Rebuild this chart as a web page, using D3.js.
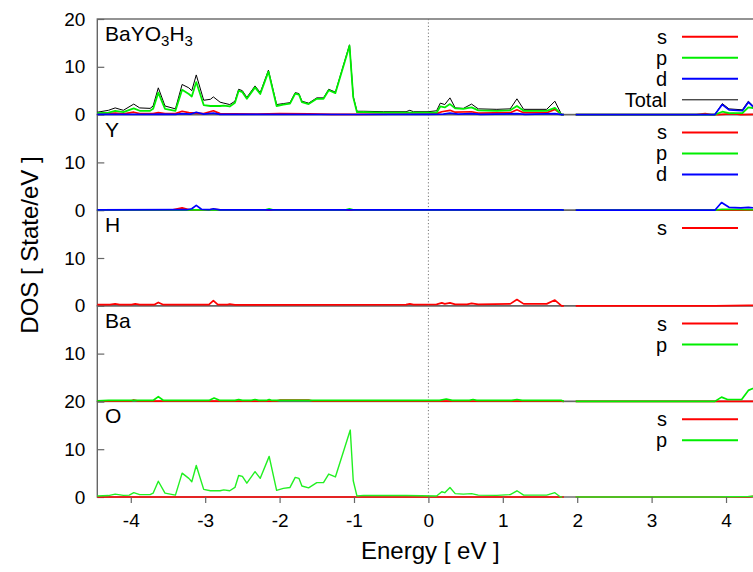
<!DOCTYPE html>
<html><head><meta charset="utf-8">
<script src="https://cdn.jsdelivr.net/npm/d3@7"></script>
<style>body{margin:0;background:#fff} text{font-family:"Liberation Sans",Arial,sans-serif;fill:#000}</style>
</head><body><svg id="c" width="753" height="572"></svg>
<script>
// ---------- data ----------
const energyTicks = [-4,-3,-2,-1,0,1,2,3,4];
const panelLabels = ["BaYO3H3","Y","H","Ba","O"];
const panelYTicks = [[0,10,20],[0,10],[0,10],[0,10],[0,10,20]];
// the O panel's "20" label sits where the Ba panel's "0" would be; only "20" is shown there
const panelYTickLabels = [[0,10,20],[0,10],[0,10],[10],[0,10,20]];

// BaYO3H3 total panel
const totS = [[-4.45,0.1],[-4.21,0.3],[-4.1,0.15],[-3.96,0.5],[-3.88,0.2],[-3.7,0.2],[-3.63,0.4],[-3.54,0.2],[-3.40,0.2],[-3.31,0.7],[-3.22,0.4],[-3.12,0.3],[-3.02,0.2],[-2.89,0.8],[-2.80,0.2],[-2.6,0.15],[-2.3,0.1],[-2.0,0.2],[-1.6,0.15],[-1.3,0.05],[-1.0,0.05],[-0.5,0.1],[0.0,0.1],[0.11,0.2],[0.18,0.6],[0.29,0.9],[0.36,0.5],[0.58,0.6],[0.67,0.3],[1.1,0.4],[1.19,1.0],[1.28,0.4],[1.59,0.4],[1.70,1.1],[1.79,0],[1.82,0],[1.9,null],[1.98,0],[3.6,0],[3.72,0.2],[3.8,0],[3.9,0],[4.0,0.1],[4.1,0.2],[4.2,0],[4.45,0.1]];
const totP = [[-4.45,0.3],[-4.3,0.4],[-4.21,0.8],[-4.1,0.5],[-3.96,1.3],[-3.88,0.8],[-3.74,0.8],[-3.70,1.2],[-3.63,4.6],[-3.54,1.2],[-3.40,0.8],[-3.31,5.2],[-3.22,4.3],[-3.18,3.8],[-3.12,6.8],[-3.02,2.0],[-2.93,1.8],[-2.80,1.8],[-2.75,1.9],[-2.67,1.7],[-2.60,2.5],[-2.55,5.0],[-2.50,4.7],[-2.44,3.3],[-2.33,5.7],[-2.26,4.3],[-2.15,9.0],[-2.04,1.8],[-1.95,2.1],[-1.86,2.3],[-1.79,4.4],[-1.74,4.2],[-1.70,2.6],[-1.61,2.2],[-1.50,3.3],[-1.41,3.3],[-1.34,5.1],[-1.25,4.5],[-1.06,14.4],[-1.01,3.6],[-0.96,0.5],[-0.87,0.5],[-0.6,0.4],[-0.3,0.4],[0.0,0.4],[0.11,0.4],[0.16,1.7],[0.22,1.5],[0.29,2.2],[0.36,1.3],[0.47,1.2],[0.58,1.5],[0.67,0.9],[0.92,0.8],[1.1,0.9],[1.19,1.8],[1.28,0.8],[1.59,0.8],[1.70,1.4],[1.79,0],[1.82,0],[1.9,null],[1.98,0],[3.85,0],[3.95,0.6],[4.04,0.3],[4.22,0.3],[4.30,1.5],[4.45,1.2]];
const totD = [[-4.45,0.05],[-3.7,0.05],[-3.63,0.1],[-3.4,0.05],[-3.31,0.2],[-3.2,0.1],[-3.12,0.5],[-3.02,0.1],[-2.89,0.3],[-2.8,0.05],[-1.0,0.02],[0.0,0.03],[0.2,0.1],[0.29,0.3],[0.4,0.1],[0.58,0.2],[0.7,0.05],[1.19,0.2],[1.3,0.05],[1.7,0.2],[1.79,0],[1.82,0],[1.9,null],[1.98,0],[3.85,0],[3.95,2.1],[4.04,1.0],[4.22,0.8],[4.30,2.6],[4.36,1.7],[4.45,1.5]];
const totAll = [[-4.45,0.5],[-4.3,0.9],[-4.21,1.4],[-4.1,0.9],[-3.96,2.2],[-3.88,1.4],[-3.74,1.3],[-3.70,1.8],[-3.63,5.6],[-3.54,1.8],[-3.40,1.2],[-3.31,6.3],[-3.22,5.6],[-3.18,5.0],[-3.12,8.3],[-3.02,3.0],[-2.93,3.2],[-2.89,3.7],[-2.80,2.6],[-2.75,2.4],[-2.67,2.1],[-2.60,2.8],[-2.55,5.3],[-2.50,5.0],[-2.44,3.6],[-2.33,6.0],[-2.26,4.6],[-2.15,9.3],[-2.04,2.1],[-1.95,2.3],[-1.86,2.5],[-1.79,4.6],[-1.74,4.4],[-1.70,2.8],[-1.61,2.4],[-1.50,3.5],[-1.41,3.5],[-1.34,5.3],[-1.25,4.7],[-1.06,14.6],[-1.01,3.8],[-0.96,0.7],[-0.87,0.7],[-0.6,0.6],[-0.3,0.6],[-0.25,0.9],[-0.2,0.6],[0.0,0.6],[0.11,0.8],[0.16,2.4],[0.22,2.1],[0.29,3.5],[0.36,1.4],[0.47,1.3],[0.58,2.2],[0.67,1.2],[0.92,1.1],[1.1,1.2],[1.19,3.3],[1.28,1.1],[1.59,1.1],[1.70,2.8],[1.79,0],[1.82,0],[1.9,null],[1.98,0],[3.85,0],[3.95,2.3],[4.04,1.2],[4.22,1.0],[4.30,2.8],[4.36,1.9],[4.45,1.7]];

// Y panel
const yS = [[-4.45,0.05],[-3.45,0.05],[-3.31,0.5],[-3.2,0.05],[-2.95,0.05],[-2.89,0.2],[-2.8,0.05],[1.79,0.05],[1.82,0],[1.9,null],[1.98,0],[4.45,0]];
const yP = [[-4.45,0.05],[-2.2,0.05],[-2.14,0.3],[-2.08,0.05],[-1.12,0.05],[-1.06,0.3],[-1.0,0.05],[1.79,0.05],[1.82,0],[1.9,null],[1.98,0],[3.85,0],[3.95,0.2],[4.45,0.1]];
const yD = [[-4.45,0.05],[-3.25,0.1],[-3.18,0.3],[-3.12,1.0],[-3.05,0.2],[-2.95,0.1],[-2.89,0.3],[-2.8,0.05],[0.0,0.05],[1.79,0.05],[1.82,0],[1.9,null],[1.98,0],[3.85,0],[3.94,1.6],[4.04,0.6],[4.2,0.5],[4.3,0.6],[4.45,0.4]];

// H panel
const hS = [[-4.45,0.25],[-4.28,0.25],[-4.21,0.4],[-4.15,0.25],[-3.99,0.25],[-3.94,0.4],[-3.88,0.25],[-3.68,0.25],[-3.63,0.7],[-3.57,0.25],[-2.95,0.25],[-2.89,1.1],[-2.83,0.25],[-2.7,0.25],[-2.67,0.35],[-2.6,0.2],[-0.3,0.25],[-0.25,0.4],[-0.2,0.25],[0.11,0.3],[0.18,0.6],[0.22,0.4],[0.29,0.6],[0.36,0.3],[0.52,0.3],[0.58,0.5],[0.67,0.3],[1.1,0.4],[1.19,1.3],[1.28,0.4],[1.59,0.4],[1.70,1.2],[1.79,0],[1.82,0],[1.9,null],[1.98,0],[3.85,0],[4.3,0.1],[4.45,0.1]];

// Ba panel
const baS = [[-4.45,0.05],[-4.0,0.05],[-3.96,0.3],[-3.9,0.05],[-2.05,0.05],[-2.0,0.25],[-1.6,0.25],[-1.55,0.05],[1.79,0.05],[1.82,0],[1.9,null],[1.98,0],[4.45,0]];
const baP = [[-4.45,0.1],[-4.3,0.2],[-3.7,0.2],[-3.63,1.0],[-3.56,0.2],[-2.95,0.2],[-2.88,0.7],[-2.8,0.2],[-2.6,0.2],[-2.55,0.4],[-2.5,0.2],[-2.38,0.2],[-2.33,0.4],[-2.28,0.2],[-2.18,0.2],[-2.14,0.4],[-2.1,0.2],[0.15,0.2],[0.24,0.5],[0.32,0.2],[0.55,0.2],[0.6,0.4],[0.65,0.2],[1.12,0.2],[1.19,0.4],[1.26,0.2],[1.79,0.2],[1.82,0],[1.9,null],[1.98,0],[3.85,0],[3.94,0.9],[4.02,0.4],[4.21,0.4],[4.30,2.3],[4.36,2.7],[4.45,2.5]];

// O panel
const oS = [[-4.45,0],[1.82,0],[1.9,null],[1.98,0],[4.3,0],[4.4,0.2],[4.45,0.1]];
const oP = [[-4.45,0.2],[-4.3,0.3],[-4.21,0.6],[-4.1,0.35],[-4.02,0.4],[-3.96,0.9],[-3.88,0.5],[-3.74,0.5],[-3.70,0.8],[-3.63,3.3],[-3.54,0.8],[-3.40,0.4],[-3.31,5.0],[-3.22,3.9],[-3.18,3.2],[-3.12,6.6],[-3.02,1.6],[-2.93,1.3],[-2.80,1.3],[-2.75,1.5],[-2.67,1.3],[-2.60,2.0],[-2.55,4.5],[-2.50,4.3],[-2.44,2.9],[-2.33,5.3],[-2.26,3.9],[-2.14,8.5],[-2.04,1.4],[-1.95,1.8],[-1.86,2.0],[-1.79,4.1],[-1.74,3.9],[-1.70,2.3],[-1.61,1.9],[-1.50,3.0],[-1.41,3.0],[-1.34,4.8],[-1.25,4.2],[-1.05,14.0],[-1.01,3.4],[-0.96,0.2],[-0.87,0.35],[-0.6,0.3],[-0.3,0.3],[0.11,0.2],[0.18,1.1],[0.22,0.9],[0.29,2.0],[0.36,0.7],[0.47,0.6],[0.58,0.7],[0.67,0.4],[0.92,0.35],[1.1,0.5],[1.19,1.3],[1.28,0.4],[1.59,0.4],[1.70,0.9],[1.77,0.05],[1.80,0],[1.9,null],[1.98,0],[3.85,0],[4.3,0.1],[4.45,0.2]];

// ---------- drawing ----------
const RED="#ff0000", GREEN="#00ee00", BLUE="#0000ff", BLACK="#000000";
const panels = [
  {series:[{n:"Total",d:totAll,c:BLACK,w:1},{n:"s",d:totS,c:RED,w:1.7},{n:"p",d:totP,c:GREEN,w:1.8},{n:"d",d:totD,c:BLUE,w:1.7}], legend:["s","p","d","Total"]},
  {series:[{n:"s",d:yS,c:RED,w:1.7},{n:"p",d:yP,c:GREEN,w:1.7},{n:"d",d:yD,c:BLUE,w:1.7}], legend:["s","p","d"]},
  {series:[{n:"s",d:hS,c:RED,w:1.7}], legend:["s"]},
  {series:[{n:"s",d:baS,c:RED,w:1.7},{n:"p",d:baP,c:GREEN,w:1.7}], legend:["s","p"]},
  {series:[{n:"s",d:oS,c:RED,w:1.7},{n:"p",d:oP,c:"#22f022",w:1.4}], legend:["s","p"]}
];
const colorOf = {s:RED,p:GREEN,d:BLUE,Total:BLACK};

const svg = d3.select("#c");
const plotL = 97.3, plotR = 759.5, top0 = 19, ph = 95.6;
const x = d3.scaleLinear().domain([-4.45,4.45]).range([plotL, plotR]);
const bottom = top0 + ph*panels.length;
const BORDER = "#666";

// borders
panels.forEach((p,i)=>{
  const t = top0 + i*ph;
  svg.append("rect").attr("x",plotL).attr("y",t).attr("width",plotR-plotL).attr("height",ph)
    .attr("fill","none").attr("stroke",BORDER).attr("stroke-width",1.4);
});

// zero energy dotted line
svg.append("line").attr("x1",x(0)).attr("x2",x(0)).attr("y1",top0).attr("y2",bottom)
  .attr("stroke","#777").attr("stroke-width",1).attr("stroke-dasharray","1.2,2.2");

panels.forEach((p,i)=>{
  const t = top0 + i*ph;
  const y = d3.scaleLinear().domain([0,20]).range([t+ph, t]);
  const g = svg.append("g");
  // y axis
  const labs = panelYTickLabels[i];
  const ax = g.append("g").attr("transform",`translate(${plotL},0)`)
    .call(d3.axisLeft(y).tickValues(panelYTicks[i]).tickFormat(d=>labs.includes(d)?String(d):"").tickSizeInner(-7).tickSizeOuter(0).tickPadding(12));
  ax.select(".domain").remove();
  ax.selectAll(".tick line").attr("stroke",BORDER).attr("stroke-width",1.2);
  ax.selectAll(".tick text").attr("font-size",19).attr("font-family","'Liberation Sans',Arial,sans-serif").attr("fill","#000");

  const line = d3.line().defined(d=>d[1]!==null).x(d=>x(d[0])).y(d=>y(d[1]));
  p.series.forEach(s=>{
    g.append("path").datum(s.d).attr("d",line).attr("fill","none")
      .attr("stroke",s.c).attr("stroke-width",s.w).attr("stroke-linejoin","round");
  });

  // panel label
  const lab = g.append("text").attr("x",105).attr("y",t+22).attr("font-size",21);
  if (panelLabels[i]==="BaYO3H3"){
    lab.append("tspan").text("BaYO");
    lab.append("tspan").text("3").attr("font-size",15).attr("dy",5);
    lab.append("tspan").text("H").attr("dy",-5);
    lab.append("tspan").text("3").attr("font-size",15).attr("dy",5);
  } else lab.text(panelLabels[i]);

  // legend
  p.legend.forEach((k,j)=>{
    const ly = t + 17.8 + j*21;
    g.append("text").attr("x",667).attr("y",ly).attr("dy","0.35em").attr("text-anchor","end")
      .attr("font-size",20).text(k);
    g.append("line").attr("x1",682).attr("x2",738).attr("y1",ly).attr("y2",ly)
      .attr("stroke",colorOf[k]).attr("stroke-width",k==="Total"?1:2);
  });
});

// x axis
const xa = svg.append("g").attr("transform",`translate(0,${bottom})`)
  .call(d3.axisBottom(x).tickValues(energyTicks).tickFormat(d=>String(d)).tickSizeInner(6).tickSizeOuter(0).tickPadding(11));
xa.select(".domain").remove();
xa.selectAll(".tick line").attr("stroke",BORDER).attr("stroke-width",1.2);
xa.selectAll(".tick text").attr("font-size",19).attr("font-family","'Liberation Sans',Arial,sans-serif").attr("fill","#000");

// axis titles
svg.append("text").attr("x",x(0)+2).attr("y",559).attr("text-anchor","middle").attr("font-size",24).text("Energy [ eV ]");
svg.append("text").attr("transform","translate(38,245) rotate(-90)").attr("text-anchor","middle").attr("font-size",24).text("DOS [ State/eV ]");
</script></body></html>
